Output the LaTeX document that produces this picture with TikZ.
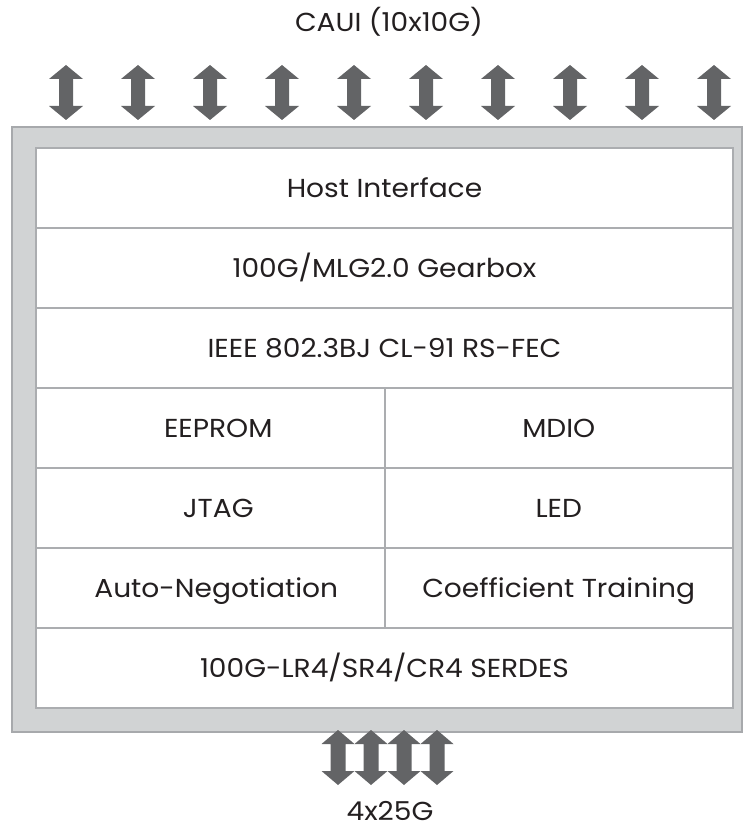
\documentclass[tikz,border=0pt]{standalone}
\usepackage{fontspec}
\setmainfont{Poppins}[FakeStretch=1.08]
\definecolor{outerfill}{HTML}{D1D3D4}
\definecolor{outerline}{HTML}{A7A9AC}
\definecolor{gridline}{HTML}{ABADB0}
\definecolor{arrowc}{HTML}{636466}
\definecolor{txt}{HTML}{231F20}
\begin{document}
\begin{tikzpicture}[x=1pt,y=-1pt,
  lbl/.style={font=\fontsize{26}{30}\selectfont, text=txt, inner sep=0pt,
    text height=18pt, text depth=0pt},
  cell/.style={draw=gridline, line width=2pt, fill=white, inner sep=0pt,
    font=\fontsize{26}{30}\selectfont, text=txt, minimum height=80pt,
    text height=18pt, text depth=0pt},
  wide/.style={cell, minimum width=697pt},
  half/.style={cell, minimum width=348.5pt},
  dblarrow/.pic={\fill[arrowc] (0,0) -- (17,14) -- (7,14) -- (7,41) -- (17,41)
     -- (0,55) -- (-17,41) -- (-7,41) -- (-7,14) -- (-17,14) -- cycle;},
  smallarrow/.pic={\fill[arrowc] (0,0) -- (16.5,14) -- (7.5,14) -- (7.5,41) -- (16.5,41)
     -- (0,55) -- (-16.5,41) -- (-7.5,41) -- (-7.5,14) -- (-16.5,14) -- cycle;}]
\useasboundingbox (0,0) rectangle (744,829);
% outer frame
\draw[draw=outerline, fill=outerfill, line width=2pt] (12,127) rectangle (742,732);
% cells
\node[wide] (host) at (384.5,188) {Host Interface};
\node[wide] (gear) at (384.5,268) {100G/MLG2.0 Gearbox};
\node[wide] (fec)  at (384.5,348) {IEEE 802.3BJ CL-91 RS-FEC};
\node[half] (eeprom) at (210.25,428) {\hspace*{16pt}EEPROM};
\node[half] (mdio)   at (558.75,428) {MDIO};
\node[half] (jtag)   at (210.25,508) {\hspace*{16pt}JTAG};
\node[half] (led)    at (558.75,508) {LED};
\node[half] (auto)   at (210.25,588) {\hspace*{12pt}Auto-Negotiation};
\node[half] (coef)   at (558.75,588) {Coefficient Training};
\node[wide] (serdes) at (384.5,668) {100G-LR4/SR4/CR4 SERDES};
% top arrows
\foreach \i in {0,...,9}
  \pic at ({66+72*\i},65) {dblarrow};
% bottom arrows
\foreach \x in {338,371,404,437}
  \pic at (\x,730) {smallarrow};
% labels
\node[lbl] (caui) at (389,22.5) {CAUI (10x10G)};
\node[lbl] (lanes) at (390,811) {4x25G};
\end{tikzpicture}
\end{document}
